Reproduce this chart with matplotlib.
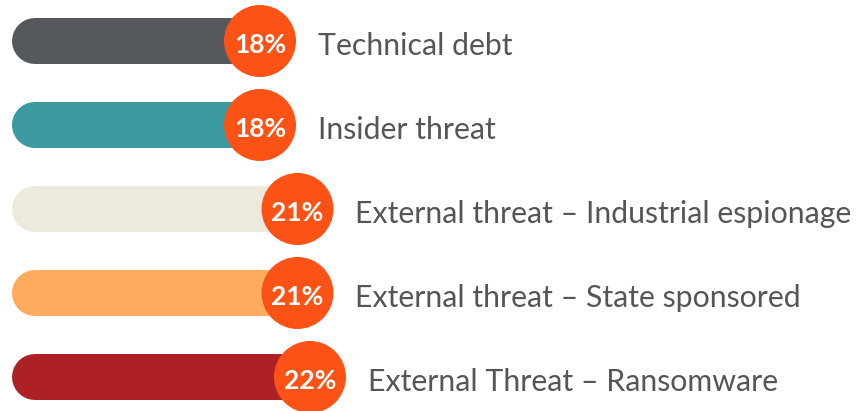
import matplotlib.pyplot as plt

# 데이터
labels = ['Technical debt', 'Insider threat', 'External threat \u2013 Industrial espionage',
          'External threat \u2013 State sponsored', 'External Threat \u2013 Ransomware']
values = [18, 18, 21, 21, 22]
bar_colors = ['#55585c', '#3a9a9f', '#eceadc', '#fdac5f', '#ad2126']
badge_color = '#fc5216'

fig = plt.figure(figsize=(8.58, 4.11), dpi=100)
ax = fig.add_axes([0, 0, 1, 1])
ax.set_xlim(-2.8, 65.84)
ax.set_ylim(4.405, -0.488)
ax.axis('off')

bar_lw = 46 * 72 / 100  # 막대 두께 (pt)
badge_size = (72 * 72 / 100) ** 2

for i, (lab, v, c) in enumerate(zip(labels, values, bar_colors)):
    ax.plot([0, v], [i, i], color=c, lw=bar_lw, solid_capstyle='round', zorder=1)
    ax.scatter([v], [i], s=badge_size, color=badge_color, edgecolors='none', zorder=2)
    ax.text(v, i + 0.02, f'{v}%', color='white', fontsize=19, fontweight='bold',
            family='Lato', ha='center', va='center_baseline', zorder=3)
    ax.text(v + 4.6, i + 0.03, lab, color='#555555', fontsize=21.8, family='Lato',
            ha='left', va='center_baseline')

fig.savefig('out.png', dpi=100)
